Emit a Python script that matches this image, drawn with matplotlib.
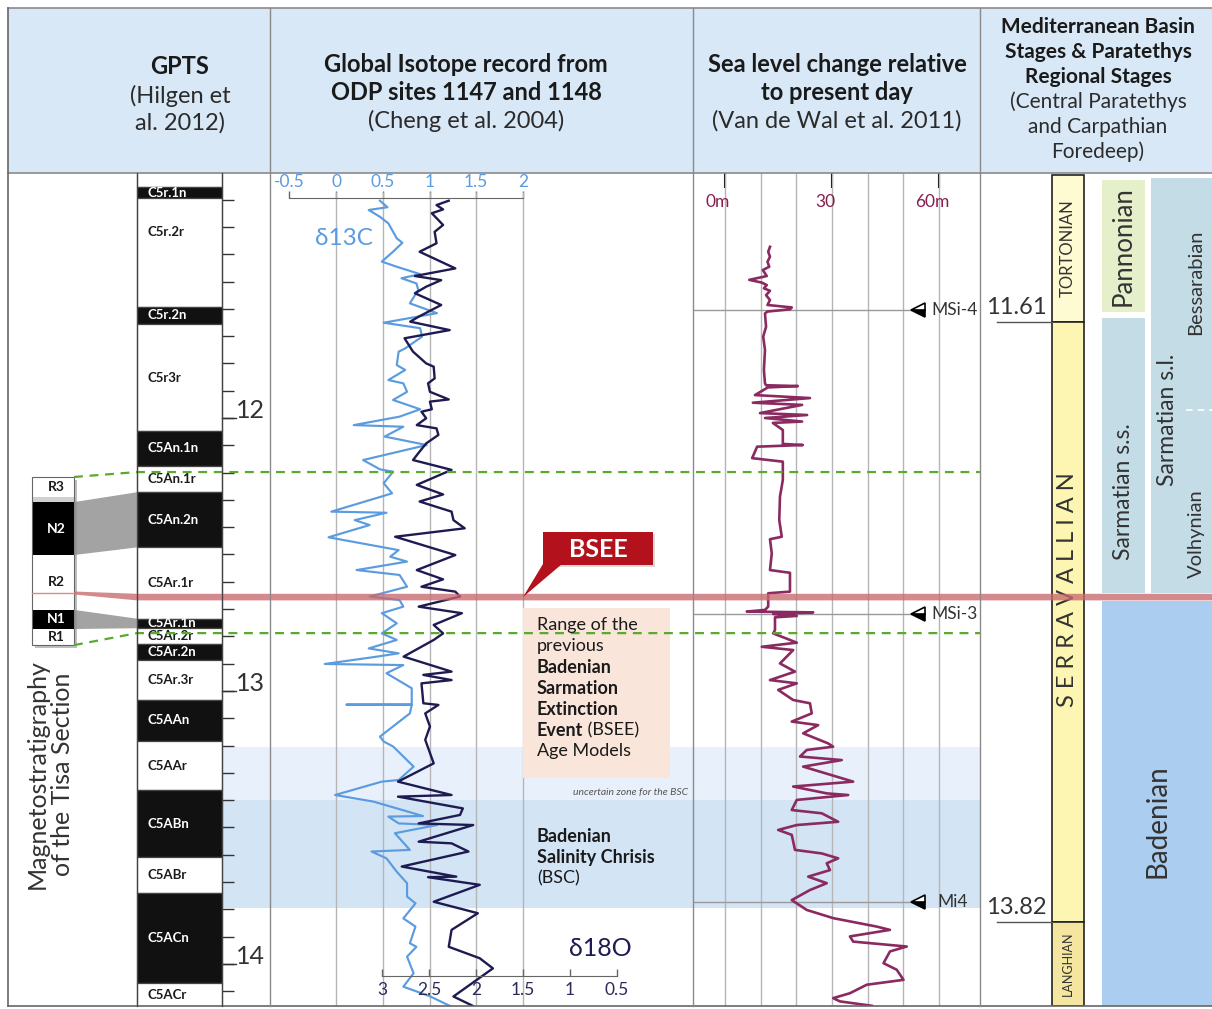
import matplotlib
matplotlib.use('Agg')
import matplotlib.pyplot as plt
from matplotlib.patches import Rectangle, Polygon
import numpy as np

plt.rcParams['font.family'] = ['Lato', 'DejaVu Sans']

# ---------------- data ----------------
CHRON_NAMES = ['', 'C5r.1n', 'C5r.2r', 'C5r.2n', 'C5r3r', 'C5An.1n', 'C5An.1r', 'C5An.2n',
               'C5Ar.1r', 'C5Ar.1n', 'C5Ar.2r', 'C5Ar.2n', 'C5Ar.3r', 'C5AAn', 'C5AAr',
               'C5ABn', 'C5ABr', 'C5ACn', 'C5ACr']
CHRON_TOP = [11.10, 11.153, 11.195, 11.592, 11.657, 12.049, 12.174, 12.272, 12.474, 12.735,
             12.770, 12.829, 12.887, 13.032, 13.183, 13.363, 13.608, 13.739, 14.070]
CHRON_BASE = CHRON_TOP[1:] + [14.154]
CHRON_NORMAL = [0, 1, 0, 1, 0, 1, 0, 1, 0, 1, 0, 1, 0, 1, 0, 1, 0, 1, 0]
AGE_LABELS = ['12', '13', '14']

TISA_NAMES = ['R3', '', 'N2', 'R2', 'N1', 'R1']
TISA_TOP = [12.216, 12.289, 12.308, 12.502, 12.703, 12.773]
TISA_BASE = [12.289, 12.308, 12.502, 12.703, 12.773, 12.832]
TISA_COLOR = ['white', '#d0d0d0', 'black', 'white', 'black', 'white']
TISA_BSEE = 12.641
CORR_GPTS = [12.198, 12.788]          # green correlation levels
BSEE_AGE = 12.656

C13_AGE = [11.204, 11.228, 11.238, 11.263, 11.287, 11.342, 11.358, 11.391, 11.427, 11.446,
           11.473, 11.488, 11.507, 11.531, 11.580, 11.616, 11.651, 11.671, 11.702, 11.745,
           11.757, 11.806, 11.824, 11.861, 11.873, 11.904, 11.934, 11.968, 11.995, 12.026,
           12.032, 12.068, 12.099, 12.154, 12.188, 12.197, 12.239, 12.276, 12.343, 12.347,
           12.374, 12.392, 12.437, 12.484, 12.508, 12.526, 12.557, 12.575, 12.618, 12.654,
           12.667, 12.691, 12.715, 12.752, 12.789, 12.813, 12.844, 12.862, 12.874, 12.901,
           12.905, 12.935, 12.990, 13.049, 13.050, 13.051, 13.082, 13.167, 13.185, 13.203,
           13.277, 13.326, 13.332, 13.381, 13.405, 13.458, 13.460, 13.485, 13.491, 13.521,
           13.582, 13.588, 13.613, 13.662, 13.704, 13.753, 13.778, 13.833, 13.863, 13.924,
           13.937, 13.973, 14.034, 14.083, 14.119, 14.154]
C13_VAL = [0.47, 0.55, 0.35, 0.47, 0.56, 0.65, 0.71, 0.61, 0.49, 0.65,
           0.90, 0.70, 0.86, 0.88, 0.79, 1.08, 0.51, 0.90, 0.92, 0.74,
           0.67, 0.65, 0.74, 0.56, 0.72, 0.76, 0.61, 0.90, 0.68, 0.19,
           0.72, 0.52, 0.97, 0.29, 0.47, 0.61, 0.51, 0.60, -0.05, 0.54,
           0.20, 0.36, -0.08, 0.67, 0.58, 0.76, 0.22, 0.68, 0.76, 0.36,
           0.68, 0.72, 0.49, 0.65, 0.49, 0.65, 0.35, 0.67, 0.44, -0.12,
           0.72, 0.54, 0.81, 0.81, 0.11, 0.81, 0.79, 0.47, 0.51, 0.61,
           0.83, 0.67, 0.49, -0.01, 0.40, 0.93, 0.56, 0.67, 1.08, 0.63,
           0.79, 0.38, 0.54, 0.65, 0.76, 0.76, 0.85, 0.72, 0.85, 0.79,
           0.86, 0.76, 0.83, 0.72, 1.01, 1.22]

O18_AGE = [11.204, 11.220, 11.236, 11.250, 11.293, 11.318, 11.360, 11.391, 11.452, 11.480,
           11.495, 11.519, 11.543, 11.586, 11.629, 11.647, 11.678, 11.708, 11.757, 11.800,
           11.812, 11.855, 11.873, 11.904, 11.932, 11.940, 11.968, 11.977, 12.001, 12.026,
           12.038, 12.062, 12.093, 12.123, 12.154, 12.190, 12.245, 12.280, 12.306, 12.343,
           12.374, 12.404, 12.435, 12.502, 12.557, 12.591, 12.618, 12.636, 12.654, 12.691,
           12.715, 12.758, 12.789, 12.813, 12.874, 12.929, 12.941, 12.960, 12.972, 13.045,
           13.051, 13.082, 13.130, 13.179, 13.265, 13.332, 13.381, 13.387, 13.430, 13.454,
           13.485, 13.491, 13.552, 13.558, 13.588, 13.643, 13.680, 13.682, 13.710, 13.772,
           13.814, 13.875, 13.937, 13.979, 14.016, 14.119, 14.154]
O18_VAL = [2.29, 2.42, 2.35, 2.47, 2.35, 2.44, 2.42, 2.60, 2.22, 2.65,
           2.37, 2.53, 2.65, 2.37, 2.61, 2.70, 2.28, 2.76, 2.67, 2.53,
           2.45, 2.44, 2.51, 2.49, 2.29, 2.49, 2.47, 2.58, 2.53, 2.63,
           2.42, 2.40, 2.53, 2.60, 2.67, 2.26, 2.63, 2.35, 2.60, 2.26,
           2.24, 2.12, 2.86, 2.22, 2.63, 2.35, 2.58, 2.22, 2.17, 2.61,
           2.15, 2.45, 2.35, 2.45, 2.77, 2.26, 2.56, 2.26, 2.58, 2.56,
           2.40, 2.54, 2.49, 2.54, 2.45, 2.83, 2.26, 2.83, 2.14, 2.17,
           2.61, 2.03, 2.61, 2.26, 2.08, 2.79, 2.21, 2.51, 1.96, 2.45,
           1.98, 2.26, 2.29, 1.96, 1.82, 2.24, 2.03]

C13_TICKS = [-0.5, 0, 0.5, 1, 1.5, 2]
C13_TICKLABELS = ['-0.5', '0', '0.5', '1', '1.5', '2']
O18_TICKS = [3, 2.5, 2, 1.5, 1, 0.5]
O18_TICKLABELS = ['3', '2.5', '2', '1.5', '1', '0.5']

# sea level record: (age Ma, metres above present)
SEA_LEVEL = [
    (11.373, 12.6), (11.391, 12.1), (11.409, 12.6), (11.428, 11.9), (11.446, 12.4),
    (11.458, 10.6), (11.480, 11.7), (11.494, 6.8), (11.504, 10.3), (11.513, 11.7),
    (11.525, 10.9), (11.534, 12.6), (11.550, 11.5), (11.568, 12.6), (11.586, 11.9),
    (11.595, 18.7), (11.602, 18.2), (11.610, 11.9), (11.617, 11.2), (11.666, 11.5),
    (11.702, 10.7), (11.751, 11.2), (11.824, 10.9), (11.873, 11.2),
    (11.880, 11.5), (11.883, 20.4), (11.888, 12.0), (11.916, 8.4), (11.927, 23.8),
    (11.944, 7.8), (11.952, 21.6), (11.982, 9.8), (11.989, 23.0), (12.000, 11.2),
    (12.013, 21.6), (12.018, 13.4), (12.044, 16.2), (12.095, 16.2), (12.099, 21.8),
    (12.105, 9.0), (12.147, 7.6), (12.160, 16.2), (12.227, 16.2),
    (12.288, 15.4), (12.374, 15.2), (12.435, 15.9), (12.444, 12.6), (12.496, 13.1),
    (12.557, 12.6), (12.567, 18.2), (12.636, 18.2),
    (12.642, 12.1), (12.691, 12.1), (12.703, 11.2), (12.709, 6.1), (12.712, 24.7),
    (12.718, 13.5), (12.725, 20.1), (12.730, 14.0), (12.777, 14.0), (12.789, 13.5),
    (12.813, 18.2), (12.823, 20.1), (12.838, 10.3),
    (12.850, 19.1), (12.899, 15.4), (12.929, 19.6), (12.960, 12.6), (12.972, 20.1),
    (12.996, 14.9), (13.033, 19.1), (13.045, 23.8), (13.082, 24.3), (13.112, 18.7),
    (13.125, 26.1), (13.155, 21.9), (13.192, 28.9), (13.204, 30.3), (13.216, 22.9),
    (13.240, 21.0), (13.253, 32.7), (13.277, 21.9), (13.332, 35.9), (13.350, 19.1),
    (13.375, 28.5), (13.381, 34.5), (13.399, 20.1), (13.436, 18.7), (13.448, 27.1),
    (13.479, 31.7), (13.491, 20.1), (13.509, 14.9), (13.527, 18.7), (13.582, 19.6),
    (13.595, 27.1), (13.613, 31.7), (13.631, 28.5), (13.656, 29.4), (13.680, 23.3),
    (13.704, 28.5), (13.729, 23.8), (13.766, 18.7),
    (13.802, 22.9), (13.832, 30.3), (13.863, 42.5), (13.875, 46.2), (13.899, 35.0),
    (13.918, 35.9), (13.936, 50.9), (13.954, 46.2), (13.997, 44.4), (14.021, 48.1),
    (14.058, 50.0), (14.076, 39.7), (14.107, 35.0), (14.125, 30.3), (14.137, 32.2),
    (14.153, 41.1),
]
SL_AGE = [a for a, _ in SEA_LEVEL]
SL_M = [m for _, m in SEA_LEVEL]
SL_TICKS = [0, 30, 60]
SL_TICKLABELS = ['0m', '30', '60m']
SL_GRID = [0, 10, 20, 30, 40, 50, 60]

EVENT_NAMES = ['MSi-4', 'MSi-3', 'Mi4']
EVENT_AGES = [11.604, 12.718, 13.773]

ZONE_UNCERTAIN = (13.205, 13.399)
ZONE_BSC = (13.399, 13.795)

STAGE_NAMES = ['TORTONIAN', 'SERRAVALLIAN', 'LANGHIAN']
STAGE_TOP = [11.11, 11.648, 13.846]
STAGE_BASE = [11.648, 13.846, 14.154]
STAGE_BOUND_LABELS = ['11.61', '13.82']

PARA_PANNONIAN = (11.128, 11.612)
PARA_SARM_SS = (11.634, 12.641)
PARA_SARM_SL = (11.121, 12.641)
PARA_BADENIAN = (12.670, 14.154)
SARM_SL_SPLIT = 11.971

# ---------------- style ----------------
C13_COL = '#5b9be0'
O18_COL = '#1e1a52'
SL_COL = '#8b2a60'
GRID_COL = '#b5b5b5'
FRAME = '#8a8a8a'
TXT = '#2b2b2b'

W, H = 1212, 1009
fig = plt.figure(figsize=(W / 100, H / 100), dpi=100)


def fax(x0, y0, x1, y1, z):
    ax = fig.add_axes([x0 / W, 1 - y1 / H, (x1 - x0) / W, (y1 - y0) / H], zorder=z)
    ax.patch.set_alpha(0)
    return ax


def A(y):
    """pixel row -> age (layout helper for placing annotations)"""
    return 12 + (y - 418) / 273.0


AGE_TOP, AGE_BOT = A(173), A(1006)

# ---------------- header (pixel coords) ----------------
bg = fax(0, 0, W, H, 0)
bg.set_xlim(0, W); bg.set_ylim(H, 0); bg.axis('off')
bg.add_patch(Rectangle((8, 8), W - 8, 165, fc='#d8e8f6', ec='none'))

hdr = [
    (180, [('GPTS', 'bold', 67), ('(Hilgen et', 'normal', 96), ('al. 2012)', 'normal', 123)], 17),
    (466, [('Global Isotope record from', 'bold', 65), ('ODP sites 1147 and 1148', 'bold', 93),
           ('(Cheng et al. 2004)', 'normal', 121)], 17),
    (837, [('Sea level change relative', 'bold', 65), ('to present day', 'bold', 93),
           ('(Van de Wal et al. 2011)', 'normal', 121)], 17),
    (1098, [('Mediterranean Basin', 'bold', 27), ('Stages & Paratethys', 'bold', 52),
            ('Regional Stages', 'bold', 77), ('(Central Paratethys', 'normal', 102),
            ('and Carpathian', 'normal', 127), ('Foredeep)', 'normal', 152)], 15),
]
for cx, lines, fs in hdr:
    for t, wgt, y in lines:
        bg.text(cx, y, t, ha='center', va='center', fontsize=fs, fontweight=wgt,
                color='#1a1a1a' if wgt == 'bold' else TXT)

# ---------------- body base layer (x pixels, y age) ----------------
body = fax(8, 173, W, 1006, 1)
body.set_xlim(8, W); body.set_ylim(AGE_BOT, AGE_TOP); body.axis('off')

body.add_patch(Rectangle((223, ZONE_UNCERTAIN[0]), 980 - 223, ZONE_UNCERTAIN[1] - ZONE_UNCERTAIN[0],
                         fc='#e8f1fb', ec='none'))
body.add_patch(Rectangle((223, ZONE_BSC[0]), 980 - 223, ZONE_BSC[1] - ZONE_BSC[0],
                         fc='#d3e4f5', ec='none'))

# GPTS chrons
for name, t, b, n in zip(CHRON_NAMES, CHRON_TOP, CHRON_BASE, CHRON_NORMAL):
    body.add_patch(Rectangle((137, t), 85, b - t, fc='#111111' if n else 'white',
                             ec='#444444', lw=0.9))
    if name:
        ly = (t + b) / 2 if name != 'C5r.2r' else 11.32
        body.text(147, ly, name, ha='left', va='center', fontsize=9.5, fontweight='bold',
                  color='white' if n else '#1a1a1a')

for a in np.arange(11.2, 14.11, 0.1):
    body.plot([222, 234], [a, a], color='#333', lw=1, solid_capstyle='butt')
for lab in AGE_LABELS:
    a = float(lab)
    body.plot([222, 236], [a, a], color='#333', lw=1)
    body.text(236, a, lab, ha='left', va='baseline', fontsize=18, color='#333')

# Mediterranean stages
for name, t, b in zip(STAGE_NAMES, STAGE_TOP, STAGE_BASE):
    fc = {'TORTONIAN': '#fefbd2', 'SERRAVALLIAN': '#fdf6b2', 'LANGHIAN': '#f4e6a0'}[name]
    body.add_patch(Rectangle((1052, t), 32, b - t, fc=fc, ec='#222', lw=1.2))
body.text(1068, (STAGE_TOP[0] + STAGE_BASE[0]) / 2, 'TORTONIAN', rotation=90, ha='center',
          va='center', fontsize=12, color='#333')
body.text(1068, A(590), 'S E R R A V A L L I A N', rotation=90, ha='center', va='center',
          fontsize=17, color='#333')
body.text(1068, (STAGE_TOP[2] + STAGE_BASE[2]) / 2, 'LANGHIAN', rotation=90, ha='center',
          va='center', fontsize=9, color='#333')
for lab, age in zip(STAGE_BOUND_LABELS, STAGE_BASE[:2]):
    body.plot([997, 1052], [age, age], color='#555', lw=1)
    body.text(986, age - 0.015, lab, ha='left', va='bottom', fontsize=17, color='#333')

# Paratethys stages
PARA_COL = '#c3dce6'
body.add_patch(Rectangle((1102, PARA_PANNONIAN[0]), 43, PARA_PANNONIAN[1] - PARA_PANNONIAN[0],
                         fc='#e5efc9', ec='none'))
body.add_patch(Rectangle((1102, PARA_SARM_SS[0]), 43, PARA_SARM_SS[1] - PARA_SARM_SS[0],
                         fc=PARA_COL, ec='none'))
body.add_patch(Rectangle((1151, PARA_SARM_SL[0]), 61, PARA_SARM_SL[1] - PARA_SARM_SL[0],
                         fc=PARA_COL, ec='none'))
body.add_patch(Rectangle((1102, PARA_BADENIAN[0]), 110, PARA_BADENIAN[1] - PARA_BADENIAN[0],
                         fc='#aacdf0', ec='none'))
body.plot([1186, 1212], [SARM_SL_SPLIT, SARM_SL_SPLIT], color='white', lw=1.2, ls=(0, (4, 3)))
body.text(1123, sum(PARA_PANNONIAN) / 2, 'Pannonian', rotation=90, ha='center', va='center',
          fontsize=18.5, color='#333')
body.text(1123, A(492), 'Sarmatian s.s.', rotation=90, ha='center', va='center',
          fontsize=16.5, color='#333')
body.text(1168, A(420), 'Sarmatian s.l.', rotation=90, ha='center', va='center',
          fontsize=16.5, color='#333')
body.text(1196, A(282), 'Bessarabian', rotation=90, ha='center', va='center',
          fontsize=14.5, color='#333')
body.text(1196, A(534), 'Volhynian', rotation=90, ha='center', va='center',
          fontsize=14.5, color='#333')
body.text(1157, A(821), 'Badenian', rotation=90, ha='center', va='center',
          fontsize=20, color='#333')

# ---------------- isotope panels ----------------
axc = fax(270, 173, 693, 1006, 2)
axc.set_xlim((270 - 336) / 93.5, (693 - 336) / 93.5)
axc.set_ylim(AGE_BOT, AGE_TOP)
axc.vlines(C13_TICKS[1:], A(192), AGE_BOT, color=GRID_COL, lw=1)
axc.plot(C13_VAL, C13_AGE, color=C13_COL, lw=1.55)
for s in ['left', 'right', 'bottom']:
    axc.spines[s].set_visible(False)
axc.spines['top'].set_position(('data', A(198)))
axc.spines['top'].set_bounds(-0.5, 2)
axc.spines['top'].set_color('#666')
axc.xaxis.set_ticks_position('top')
axc.set_xticks(C13_TICKS)
axc.set_xticklabels(C13_TICKLABELS)
axc.tick_params(axis='x', direction='out', length=5, width=1, color='#666',
                labelcolor=C13_COL, labelsize=12.5, pad=1)
axc.set_yticks([])

axo = fax(270, 173, 693, 1006, 3)
axo.set_xlim(3 + (382 - 270) / 94, 3 - (693 - 382) / 94)
axo.set_ylim(AGE_BOT, AGE_TOP)
axo.plot(O18_VAL, O18_AGE, color=O18_COL, lw=1.7)
for s in ['left', 'right', 'top']:
    axo.spines[s].set_visible(False)
axo.spines['bottom'].set_position(('data', A(976)))
axo.spines['bottom'].set_bounds(0.5, 3)
axo.spines['bottom'].set_color('#666')
axo.set_xticks(O18_TICKS)
axo.set_xticklabels(O18_TICKLABELS)
axo.tick_params(axis='x', direction='in', length=5, width=1, color='#666',
                labelcolor='#2a2a5a', labelsize=12.5, pad=4)
axo.set_yticks([])

# ---------------- sea level panel ----------------
axs = fax(693, 173, 980, 1006, 2)
axs.set_xlim((693 - 725) / 3.57, (980 - 725) / 3.57)
axs.set_ylim(AGE_BOT, AGE_TOP)
axs.vlines(SL_GRID, AGE_BOT, AGE_TOP, color=GRID_COL, lw=1)
axs.hlines(EVENT_AGES, (693 - 725) / 3.57, (912 - 725) / 3.57, color='#9a9a9a', lw=1)
axs.plot(SL_M, SL_AGE, color=SL_COL, lw=1.9)
for s in axs.spines.values():
    s.set_visible(False)
axs.xaxis.set_ticks_position('top')
axs.set_xticks(SL_TICKS)
axs.tick_params(axis='x', direction='in', length=11, width=1.5, color='black', labeltop=False)
axs.set_yticks([])
for v, lab in zip(SL_TICKS, SL_TICKLABELS):
    axs.text(v - 2.0, A(202), lab, ha='center', va='center', fontsize=12.5, color='#8a1d50')
tri_x = (918 - 725) / 3.57
axs.plot([tri_x] * len(EVENT_AGES), EVENT_AGES, ls='none', marker='<', ms=10,
         mfc='black', mec='black', fillstyle='bottom', markerfacecoloralt='white', mew=1.2)
for name, age in zip(EVENT_NAMES, EVENT_AGES):
    axs.text((931 - 725) / 3.57 if name != 'Mi4' else (937 - 725) / 3.57, age, name,
             ha='left', va='center', fontsize=12.5, color='#333')

# ---------------- overlay (x pixels, y age) ----------------
top = fax(8, 173, W, 1006, 5)
top.set_xlim(8, W); top.set_ylim(AGE_BOT, AGE_TOP); top.axis('off')

# Tisa section
top.add_patch(Rectangle((35, TISA_TOP[0] + 0.012), 42, TISA_BASE[-1] - TISA_TOP[0],
                        fc='#000000', alpha=0.25, ec='none'))
for name, t, b, c in zip(TISA_NAMES, TISA_TOP, TISA_BASE, TISA_COLOR):
    top.add_patch(Rectangle((32, t), 42, b - t, fc=c, ec='none'))
    if name:
        top.text(56, (t + b) / 2, name, ha='center', va='center', fontsize=10,
                 fontweight='bold', color='white' if c == 'black' else '#1a1a1a')
top.add_patch(Rectangle((32, TISA_TOP[0]), 42, TISA_BASE[-1] - TISA_TOP[0], fc='none',
                        ec='#666', lw=0.8))
top.plot([32, 74], [TISA_BSEE, TISA_BSEE], color='#d98a8a', lw=1)

# connectors
top.add_patch(Polygon([(74, TISA_TOP[2]), (137, CHRON_TOP[7]), (137, CHRON_BASE[7]),
                       (74, TISA_BASE[2])], closed=True, fc='#8c8c8c', alpha=0.8, ec='none'))
top.add_patch(Polygon([(74, TISA_TOP[4]), (137, CHRON_TOP[9]), (137, CHRON_BASE[9]),
                       (74, TISA_BASE[4])], closed=True, fc='#8c8c8c', alpha=0.8, ec='none'))

# green correlation lines
GREEN = '#5aaa2d'
top.plot([74, 137, 980], [TISA_TOP[0], CORR_GPTS[0], CORR_GPTS[0]], color=GREEN, lw=1.6,
         ls=(0, (4, 3)))
top.plot([74, 137, 980], [TISA_BASE[-1], CORR_GPTS[1], CORR_GPTS[1]], color=GREEN, lw=1.6,
         ls=(0, (4, 3)))

# BSEE band
hw = 3.3 / 273
top.add_patch(Polygon([(74, TISA_BSEE - 1.5 / 273), (137, BSEE_AGE - hw), (W, BSEE_AGE - hw),
                       (W, BSEE_AGE + hw), (137, BSEE_AGE + hw), (74, TISA_BSEE + 1.5 / 273)],
                      closed=True, fc='#c9686d', alpha=0.78, ec='none'))

# BSEE callout
RED = '#b3121c'
top.add_patch(Rectangle((545, A(534)), 110, A(567) - A(534), fc='#000', alpha=0.15, ec='none'))
top.add_patch(Polygon([(543, A(564)), (562, A(564)), (523, BSEE_AGE)], closed=True,
                      fc=RED, ec='none'))
top.add_patch(Rectangle((543, A(532)), 110, A(565) - A(532), fc=RED, ec='none'))
top.text(598, A(549), 'BSEE', ha='center', va='center', fontsize=18, fontweight='bold',
         color='white')

# text box
top.add_patch(Rectangle((523, A(608)), 147, A(778) - A(608), fc='#f9e5da', ec='none'))
box_lines = [('Range of the', 'normal', 625), ('previous', 'normal', 646),
             ('Badenian', 'bold', 667), ('Sarmation', 'bold', 688),
             ('Extinction', 'bold', 709), ('Event', 'bold', 730), ('Age Models', 'normal', 751)]
ev = None
for t, wgt, y in box_lines:
    tt = top.text(537, A(y), t, ha='left', va='center', fontsize=13, fontweight=wgt,
                  color='#1a1a1a')
    if t == 'Event':
        ev = tt
top.annotate(' (BSEE)', xy=(1, 0.5), xycoords=ev, ha='left', va='center', fontsize=13,
             color='#1a1a1a')
top.text(688, A(792), 'uncertain zone for the BSC', ha='right', va='center', fontsize=7.5,
         style='italic', color='#555')
for t, wgt, y in [('Badenian', 'bold', 836), ('Salinity Chrisis', 'bold', 857),
                  ('(BSC)', 'normal', 878)]:
    top.text(537, A(y), t, ha='left', va='center', fontsize=13, fontweight=wgt, color='#1a1a1a')

top.text(344, A(238), 'δ13C', ha='center', va='center', fontsize=17.5, color=C13_COL)
top.text(600, A(948), 'δ18O', ha='center', va='center', fontsize=18, color=O18_COL)

top.text(50, A(774), 'Magnetostratigraphy\nof the Tisa Section', rotation=90, ha='center',
         va='center', fontsize=18, color='#333', linespacing=1.15)

# ---------------- frame lines (pixel coords) ----------------
fr = fax(0, 0, W, H, 6)
fr.set_xlim(0, W); fr.set_ylim(H, 0); fr.axis('off')
fr.plot([8, W], [8, 8], color=FRAME, lw=1.2)
fr.plot([8, W], [173, 173], color=FRAME, lw=1.2)
fr.plot([8, 8], [8, 1006], color='#666', lw=1.2)
fr.plot([8, W], [1006, 1006], color='#666', lw=1.2)
for x in (270, 693, 980):
    fr.plot([x, x], [8, 1006], color=FRAME, lw=1)
fr.plot([137, 137], [173, 1006], color='#444', lw=0.9)
fr.plot([222, 222], [173, 1006], color='#444', lw=0.9)

fig.savefig('out.png', dpi=100)
